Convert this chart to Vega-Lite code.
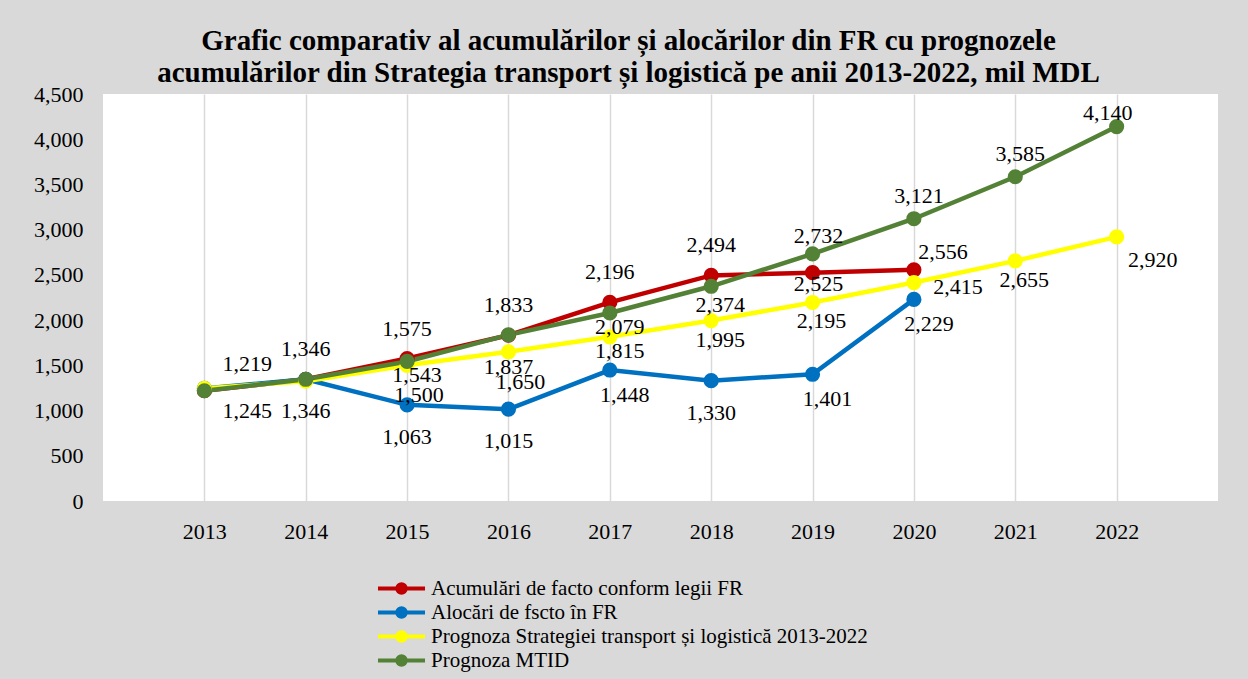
{
  "$schema": "https://vega.github.io/schema/vega-lite/v6.json",
  "width": 1115,
  "height": 407,
  "autosize": {"type": "none"},
  "padding": {"left": 103, "top": 94, "right": 30, "bottom": 178},
  "background": "#d9d9d9",
  "title": {
    "text": ["Grafic comparativ al acumulărilor și alocărilor din FR cu prognozele", "acumulărilor din Strategia transport și logistică pe anii 2013-2022, mil MDL"],
    "font": "Liberation Serif",
    "fontSize": 29,
    "fontWeight": "bold",
    "color": "#000000",
    "anchor": "middle",
    "frame": "group",
    "dx": -32,
    "offset": -5,
    "lineHeight": 32
  },
  "config": {
    "view": {"fill": "#ffffff", "stroke": null},
    "axis": {"labelFont": "Liberation Serif", "labelFontSize": 22, "labelColor": "#000000", "ticks": false, "domain": false, "title": null},
    "legend": {"labelFont": "Liberation Serif", "labelFontSize": 21, "labelColor": "#000000", "labelLimit": 0}
  },
  "data": {
    "values": [
      {"year": 2013, "series": "Acumulări de facto conform legii FR", "value": 1219},
      {"year": 2014, "series": "Acumulări de facto conform legii FR", "value": 1346},
      {"year": 2015, "series": "Acumulări de facto conform legii FR", "value": 1575},
      {"year": 2016, "series": "Acumulări de facto conform legii FR", "value": 1833},
      {"year": 2017, "series": "Acumulări de facto conform legii FR", "value": 2196},
      {"year": 2018, "series": "Acumulări de facto conform legii FR", "value": 2494},
      {"year": 2019, "series": "Acumulări de facto conform legii FR", "value": 2525},
      {"year": 2020, "series": "Acumulări de facto conform legii FR", "value": 2556},
      {"year": 2013, "series": "Alocări de fscto în FR", "value": 1245},
      {"year": 2014, "series": "Alocări de fscto în FR", "value": 1346},
      {"year": 2015, "series": "Alocări de fscto în FR", "value": 1063},
      {"year": 2016, "series": "Alocări de fscto în FR", "value": 1015},
      {"year": 2017, "series": "Alocări de fscto în FR", "value": 1448},
      {"year": 2018, "series": "Alocări de fscto în FR", "value": 1330},
      {"year": 2019, "series": "Alocări de fscto în FR", "value": 1401},
      {"year": 2020, "series": "Alocări de fscto în FR", "value": 2229},
      {"year": 2013, "series": "Prognoza Strategiei transport și logistică 2013-2022", "value": 1245},
      {"year": 2014, "series": "Prognoza Strategiei transport și logistică 2013-2022", "value": 1325},
      {"year": 2015, "series": "Prognoza Strategiei transport și logistică 2013-2022", "value": 1500},
      {"year": 2016, "series": "Prognoza Strategiei transport și logistică 2013-2022", "value": 1650},
      {"year": 2017, "series": "Prognoza Strategiei transport și logistică 2013-2022", "value": 1815},
      {"year": 2018, "series": "Prognoza Strategiei transport și logistică 2013-2022", "value": 1995},
      {"year": 2019, "series": "Prognoza Strategiei transport și logistică 2013-2022", "value": 2195},
      {"year": 2020, "series": "Prognoza Strategiei transport și logistică 2013-2022", "value": 2415},
      {"year": 2021, "series": "Prognoza Strategiei transport și logistică 2013-2022", "value": 2655},
      {"year": 2022, "series": "Prognoza Strategiei transport și logistică 2013-2022", "value": 2920},
      {"year": 2013, "series": "Prognoza MTID", "value": 1219},
      {"year": 2014, "series": "Prognoza MTID", "value": 1346},
      {"year": 2015, "series": "Prognoza MTID", "value": 1543},
      {"year": 2016, "series": "Prognoza MTID", "value": 1837},
      {"year": 2017, "series": "Prognoza MTID", "value": 2079},
      {"year": 2018, "series": "Prognoza MTID", "value": 2374},
      {"year": 2019, "series": "Prognoza MTID", "value": 2732},
      {"year": 2020, "series": "Prognoza MTID", "value": 3121},
      {"year": 2021, "series": "Prognoza MTID", "value": 3585},
      {"year": 2022, "series": "Prognoza MTID", "value": 4140}
    ]
  },
  "encoding": {
    "x": {"field": "year", "type": "ordinal", "scale": {"type": "point", "padding": 1},
      "axis": {"labelAngle": 0, "labelPadding": 20, "grid": true, "gridColor": "#d9d9d9", "gridWidth": 1.5}},
    "y": {"field": "value", "type": "quantitative", "scale": {"domain": [0, 4500], "nice": false},
      "axis": {"values": [0, 500, 1000, 1500, 2000, 2500, 3000, 3500, 4000, 4500], "labelExpr": "format(datum.value, ',')", "grid": false, "labelPadding": 20}}
  },
  "layer": [
    {
      "mark": {"type": "line", "strokeWidth": 4.5},
      "encoding": {
        "color": {"field": "series", "type": "nominal",
          "scale": {"domain": ["Acumulări de facto conform legii FR", "Alocări de fscto în FR", "Prognoza Strategiei transport și logistică 2013-2022", "Prognoza MTID"], "range": ["#c00000", "#0070c0", "#ffff00", "#538135"]},
          "legend": {"title": null, "orient": "none", "legendX": 288, "legendY": 484, "padding": 0, "rowPadding": -1, "labelLimit": 0,
            "symbolType": "M-3.36,0L3.36,0M-0.6,0A0.6,0.6,0,1,1,0.6,0A0.6,0.6,0,1,1,-0.6,0Z",
            "symbolSize": 196, "symbolStrokeWidth": 4, "labelOffset": 19,
            "encode": {"symbols": {"update": {"fill": {"scale": "color", "field": "value"}, "stroke": {"scale": "color", "field": "value"}, "strokeWidth": {"value": 4}, "opacity": {"value": 1}}}}}
        }
      }
    },
    {
      "mark": {"type": "point", "filled": true, "size": 230, "opacity": 1},
      "encoding": {
        "color": {"field": "series", "type": "nominal",
          "legend": {"title": null, "orient": "none", "legendX": 288, "legendY": 484, "padding": 0, "rowPadding": -1, "labelLimit": 0,
            "symbolType": "M-3.36,0L3.36,0M-0.6,0A0.6,0.6,0,1,1,0.6,0A0.6,0.6,0,1,1,-0.6,0Z",
            "symbolSize": 196, "symbolStrokeWidth": 4, "labelOffset": 19,
            "encode": {"symbols": {"update": {"fill": {"scale": "color", "field": "value"}, "stroke": {"scale": "color", "field": "value"}, "strokeWidth": {"value": 4}, "opacity": {"value": 1}}}}}
        }
      }
    },
    {"transform": [{"filter": "datum.series=='Acumulări de facto conform legii FR' && datum.year>=2014 && datum.year<=2018"}],
      "mark": {"type": "text", "dx": 0, "dy": -30, "font": "Liberation Serif", "fontSize": 22, "fill": "#000000"},
      "encoding": {"text": {"field": "value", "format": ","}}},
    {"transform": [{"filter": "datum.series=='Acumulări de facto conform legii FR' && datum.year==2013"}],
      "mark": {"type": "text", "dx": 43, "dy": -27, "font": "Liberation Serif", "fontSize": 22, "fill": "#000000"},
      "encoding": {"text": {"field": "value", "format": ","}}},
    {"transform": [{"filter": "datum.series=='Acumulări de facto conform legii FR' && datum.year==2019"}],
      "mark": {"type": "text", "dx": 6, "dy": 11, "font": "Liberation Serif", "fontSize": 22, "fill": "#000000"},
      "encoding": {"text": {"field": "value", "format": ","}}},
    {"transform": [{"filter": "datum.series=='Acumulări de facto conform legii FR' && datum.year==2020"}],
      "mark": {"type": "text", "dx": 29, "dy": -18, "font": "Liberation Serif", "fontSize": 22, "fill": "#000000"},
      "encoding": {"text": {"field": "value", "format": ","}}},
    {"transform": [{"filter": "(datum.series=='Alocări de fscto în FR' && (datum.year==2014 || datum.year==2015 || datum.year==2016 || datum.year==2018)) || (datum.series=='Prognoza MTID' && datum.year==2016)"}],
      "mark": {"type": "text", "dx": 0, "dy": 32, "font": "Liberation Serif", "fontSize": 22, "fill": "#000000"},
      "encoding": {"text": {"field": "value", "format": ","}}},
    {"transform": [{"filter": "datum.series=='Alocări de fscto în FR' && datum.year==2013"}],
      "mark": {"type": "text", "dx": 43, "dy": 23, "font": "Liberation Serif", "fontSize": 22, "fill": "#000000"},
      "encoding": {"text": {"field": "value", "format": ","}}},
    {"transform": [{"filter": "datum.series=='Alocări de fscto în FR' && (datum.year==2017 || datum.year==2019 || datum.year==2020)"}],
      "mark": {"type": "text", "dx": 15, "dy": 25, "font": "Liberation Serif", "fontSize": 22, "fill": "#000000"},
      "encoding": {"text": {"field": "value", "format": ","}}},
    {"transform": [{"filter": "datum.series=='Prognoza Strategiei transport și logistică 2013-2022' && (datum.year==2015 || datum.year==2016)"}],
      "mark": {"type": "text", "dx": 12, "dy": 30, "font": "Liberation Serif", "fontSize": 22, "fill": "#000000"},
      "encoding": {"text": {"field": "value", "format": ","}}},
    {"transform": [{"filter": "(datum.series=='Prognoza Strategiei transport și logistică 2013-2022' && (datum.year==2018 || datum.year==2019 || datum.year==2021)) || (datum.series=='Prognoza MTID' && datum.year==2018)"}],
      "mark": {"type": "text", "dx": 9, "dy": 19, "font": "Liberation Serif", "fontSize": 22, "fill": "#000000"},
      "encoding": {"text": {"field": "value", "format": ","}}},
    {"transform": [{"filter": "(datum.series=='Prognoza MTID' && (datum.year==2015 || datum.year==2017)) || (datum.series=='Prognoza Strategiei transport și logistică 2013-2022' && datum.year==2017)"}],
      "mark": {"type": "text", "dx": 10, "dy": 14, "font": "Liberation Serif", "fontSize": 22, "fill": "#000000"},
      "encoding": {"text": {"field": "value", "format": ","}}},
    {"transform": [{"filter": "datum.series=='Prognoza Strategiei transport și logistică 2013-2022' && datum.year==2020"}],
      "mark": {"type": "text", "dx": 44, "dy": 4, "font": "Liberation Serif", "fontSize": 22, "fill": "#000000"},
      "encoding": {"text": {"field": "value", "format": ","}}},
    {"transform": [{"filter": "datum.series=='Prognoza Strategiei transport și logistică 2013-2022' && datum.year==2022"}],
      "mark": {"type": "text", "dx": 36, "dy": 23, "font": "Liberation Serif", "fontSize": 22, "fill": "#000000"},
      "encoding": {"text": {"field": "value", "format": ","}}},
    {"transform": [{"filter": "datum.series=='Prognoza MTID' && (datum.year==2020 || datum.year==2021)"}],
      "mark": {"type": "text", "dx": 5, "dy": -23, "font": "Liberation Serif", "fontSize": 22, "fill": "#000000"},
      "encoding": {"text": {"field": "value", "format": ","}}},
    {"transform": [{"filter": "datum.series=='Prognoza MTID' && datum.year==2019"}],
      "mark": {"type": "text", "dx": 6, "dy": -18, "font": "Liberation Serif", "fontSize": 22, "fill": "#000000"},
      "encoding": {"text": {"field": "value", "format": ","}}},
    {"transform": [{"filter": "datum.series=='Prognoza MTID' && datum.year==2022"}],
      "mark": {"type": "text", "dx": -9, "dy": -14, "font": "Liberation Serif", "fontSize": 22, "fill": "#000000"},
      "encoding": {"text": {"field": "value", "format": ","}}}
  ]
}
